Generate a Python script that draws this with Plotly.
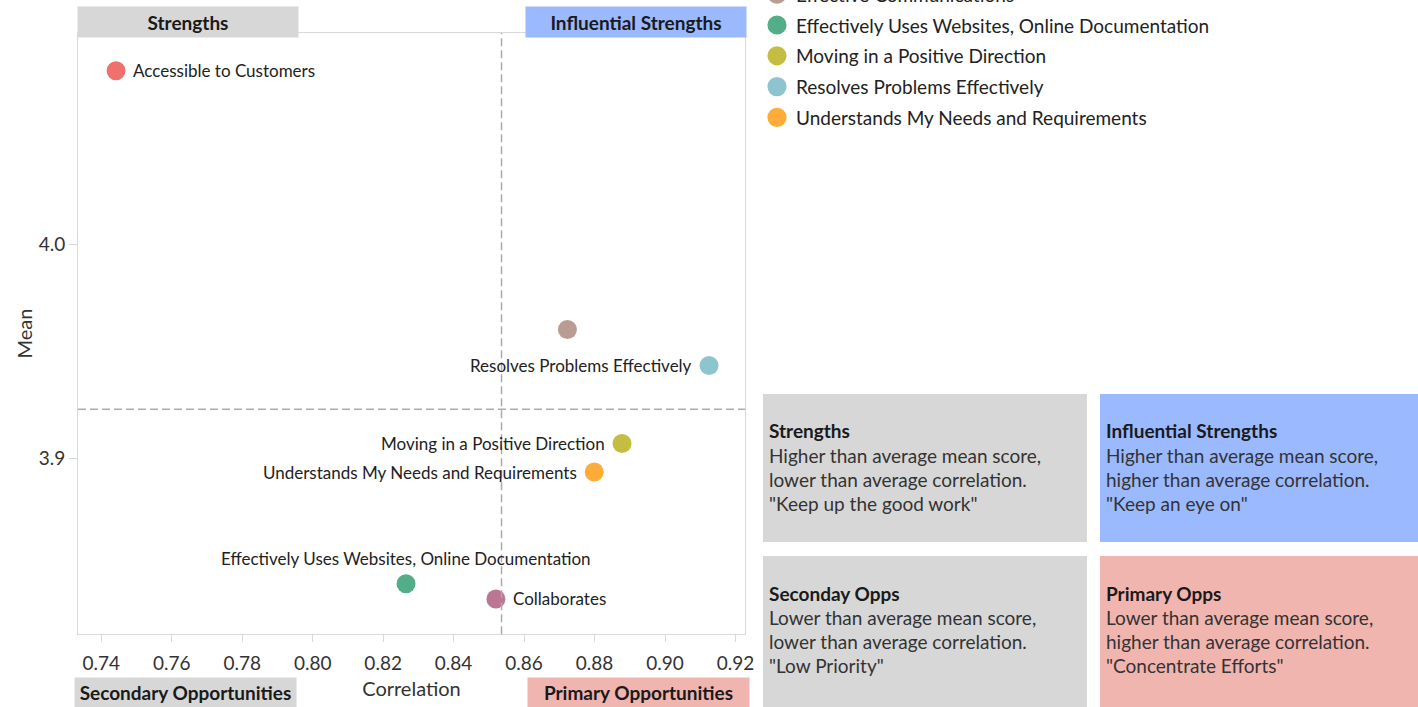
import plotly.graph_objects as go

W, H = 1418, 707

# ---------------- data ----------------
categories = [
    "Accessible to Customers",
    "Collaborates",
    "Effective Communications",
    "Effectively Uses Websites, Online Documentation",
    "Moving in a Positive Direction",
    "Resolves Problems Effectively",
    "Understands My Needs and Requirements",
]
correlation = [0.7442, 0.8520, 0.8723, 0.8265, 0.8878, 0.9125, 0.8799]
mean_score = [4.0811, 3.8343, 3.9602, 3.8414, 3.9069, 3.9434, 3.8936]
colors = ["#EE716E", "#BD7594", "#BA9D92", "#53AE88", "#C5BD42", "#8DC5CE", "#FEAC38"]
label_side = ["right", "right", "none", "top", "left", "left", "left"]

x_ticks = [0.74, 0.76, 0.78, 0.80, 0.82, 0.84, 0.86, 0.88, 0.90, 0.92]
y_ticks = [3.9, 4.0]

quadrant_tags = ["Strengths", "Influential Strengths", "Secondary Opportunities", "Primary Opportunities"]
panel_titles = ["Strengths", "Influential Strengths", "Seconday Opps", "Primary Opps"]
panel_lines = [
    ["Higher than average mean score,", "lower than average correlation.", "\"Keep up the good work\""],
    ["Higher than average mean score,", "higher than average correlation.", "\"Keep an eye on\""],
    ["Lower than average mean score,", "lower than average correlation.", "\"Low Priority\""],
    ["Lower than average mean score,", "higher than average correlation.", "\"Concentrate Efforts\""],
]

# ---------------- styling ----------------
FONT = "Lato, 'Open Sans', sans-serif"
TXT = "#333333"
GRAY = "#D7D7D7"
BLUE = "#9BB9FE"
PINK = "#F1B5B0"
FRAME = "#D9D9D9"


def fx(px):
    return px / W


def fy(py):
    return 1 - py / H


mean_x = sum(correlation) / len(correlation)
mean_y = sum(mean_score) / len(mean_score)

fig = go.Figure()

# main scatter
fig.add_trace(go.Scatter(
    x=correlation, y=mean_score, mode="markers",
    marker=dict(size=19, color=colors, opacity=1),
    text=categories, hoverinfo="text", showlegend=False,
    xaxis="x", yaxis="y",
))

annotations = []
shapes = []

# custom colour legend (a list scrolled so that its first rows sit above the page)
LEG_X, LEG_R, LEG_ROW0, LEG_STEP, LEG_FIRST_VISIBLE = 777, 9.6, 25, 30.8, 3
for i, (name, col) in enumerate(zip(categories, colors)):
    ry = LEG_ROW0 + LEG_STEP * (i - LEG_FIRST_VISIBLE)
    shapes.append(dict(type="circle", xref="paper", yref="paper",
                       x0=fx(LEG_X - LEG_R), x1=fx(LEG_X + LEG_R),
                       y0=fy(ry + LEG_R), y1=fy(ry - LEG_R),
                       fillcolor=col, line=dict(width=0), layer="above"))
    annotations.append(dict(x=fx(LEG_X + 17), y=fy(ry), xref="paper", yref="paper",
                            xanchor="left", yanchor="middle", showarrow=False, text=name,
                            font=dict(family=FONT, size=19, color="#222222")))

# point labels
for cx, cy, name, side in zip(correlation, mean_score, categories, label_side):
    if side == "none":
        continue
    a = dict(x=cx, y=cy, xref="x", yref="y", text=name, showarrow=False,
             font=dict(family=FONT, size=17, color="#222222"))
    if side == "right":
        a.update(xanchor="left", yanchor="middle", xshift=15)
    elif side == "left":
        a.update(xanchor="right", yanchor="middle", xshift=-15)
    else:
        a.update(xanchor="center", yanchor="bottom", yshift=13)
    annotations.append(a)

# quadrant tags around the plot
tag_boxes = [(78, 298, 7, 37, GRAY), (526, 746, 7, 37, BLUE),
             (75, 296, 678, 707, GRAY), (528, 749, 678, 707, PINK)]
for tag, (x0, x1, y0, y1, col) in zip(quadrant_tags, tag_boxes):
    annotations.append(dict(
        x=fx((x0 + x1) / 2), y=fy((y0 + y1) / 2), xref="paper", yref="paper",
        xanchor="center", yanchor="middle", text="<b>" + tag + "</b>", showarrow=False,
        width=x1 - x0, height=y1 - y0, borderpad=0, bgcolor=col,
        font=dict(family=FONT, size=19, color="#1a1a1a"),
    ))

# right-hand explanation panels
panel_boxes = [(763, 1087, 394, 542, GRAY), (1100, 1418, 394, 542, BLUE),
               (763, 1087, 556, 707, GRAY), (1100, 1418, 556, 707, PINK)]
for title, lines, (x0, x1, y0, y1, col) in zip(panel_titles, panel_lines, panel_boxes):
    shapes.append(dict(type="rect", xref="paper", yref="paper",
                       x0=fx(x0), x1=fx(x1), y0=fy(y1), y1=fy(y0),
                       fillcolor=col, line=dict(width=0), layer="below"))
    ty = y0 + 37
    annotations.append(dict(x=fx(x0 + 4), y=fy(ty), xref="paper", yref="paper",
                            xanchor="left", yanchor="middle", showarrow=False,
                            text="<b>" + title + "</b>",
                            font=dict(family=FONT, size=19, color="#1a1a1a")))
    for k, line in enumerate(lines):
        annotations.append(dict(x=fx(x0 + 4), y=fy(ty + 24.3 * (k + 1)), xref="paper", yref="paper",
                                xanchor="left", yanchor="middle", showarrow=False,
                                text=line, font=dict(family=FONT, size=19, color=TXT)))

# average reference lines
shapes.append(dict(type="line", xref="x", yref="y domain", x0=mean_x, x1=mean_x, y0=0, y1=1,
                   line=dict(color="#ABABAB", width=1.5, dash="8px,4px"), layer="above"))
shapes.append(dict(type="line", xref="x domain", yref="y", x0=0, x1=1, y0=mean_y, y1=mean_y,
                   line=dict(color="#ABABAB", width=1.5, dash="8px,4px"), layer="above"))

fig.update_layout(
    width=W, height=H,
    margin=dict(l=0, r=0, t=0, b=0),
    paper_bgcolor="white", plot_bgcolor="white",
    font=dict(family=FONT, size=18, color=TXT),
    xaxis=dict(
        domain=[fx(78), fx(745)], range=[0.7334, 0.9227],
        tickvals=x_ticks, tickformat=".2f",
        showgrid=False, zeroline=False,
        showline=True, mirror=True, linecolor=FRAME, linewidth=1,
        ticks="outside", ticklen=7, tickcolor=FRAME,
        ticklabelstandoff=5,
        tickfont=dict(family=FONT, size=19, color=TXT),
        title=dict(text="Correlation", standoff=8, font=dict(family=FONT, size=20, color=TXT)),
        automargin=False,
    ),
    yaxis=dict(
        domain=[fy(634.3), fy(33)], range=[3.8178, 4.0987],
        tickvals=y_ticks, tickformat=".1f",
        showgrid=False, zeroline=False,
        showline=True, mirror=True, linecolor=FRAME, linewidth=1,
        ticks="outside", ticklen=8, tickcolor=FRAME,
        tickfont=dict(family=FONT, size=19, color=TXT),
        title=dict(text="Mean", standoff=0, font=dict(family=FONT, size=20, color=TXT)),
        automargin=False,
    ),
    shapes=shapes,
    annotations=annotations,
)

fig.write_html("out.html", config={"displayModeBar": False},
               post_script="document.body.style.margin='0';")
